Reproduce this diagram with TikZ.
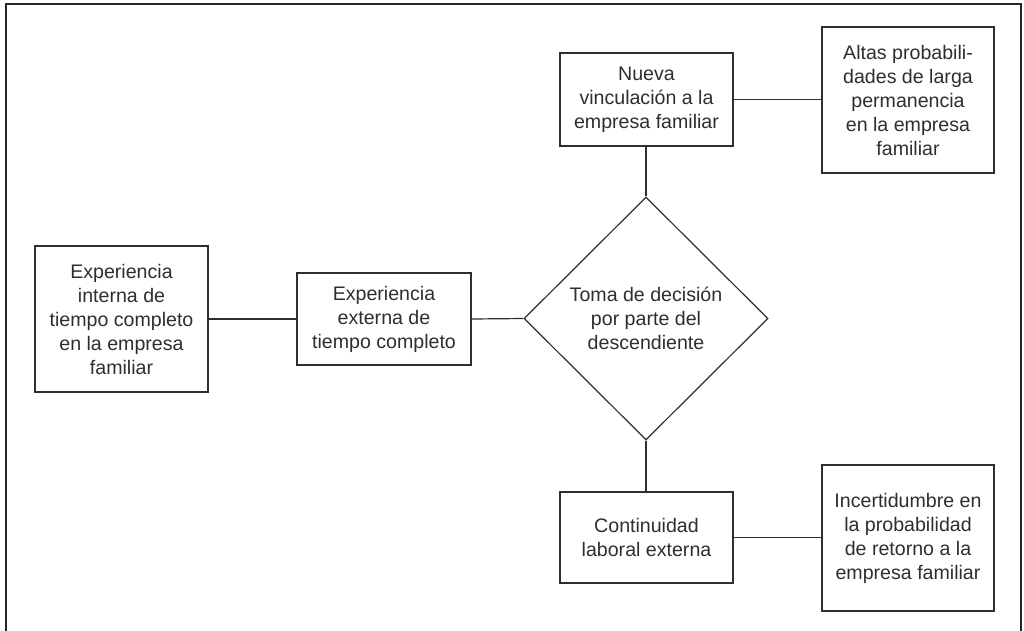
\documentclass[tikz,border=0pt]{standalone}
\usepackage{fontspec}
\setmainfont{Liberation Sans}
\usetikzlibrary{shapes.geometric}
\definecolor{ink}{HTML}{2E2E2E}
\begin{document}
\begin{tikzpicture}[x=1pt,y=-1pt,
  box/.style={draw=ink,line width=1.2pt,rectangle,inner sep=0pt,align=center,
    text=ink,font=\fontsize{19.6pt}{24pt}\selectfont},
  dia/.style={draw=ink,line width=1.2pt,diamond,inner sep=0pt,align=center,
    text=ink,font=\fontsize{19.6pt}{24pt}\selectfont,
    minimum width=244pt,minimum height=243pt},
  link/.style={draw=ink,line width=1.2pt},
  frame/.style={draw=black!85,line width=2.2pt}]
\useasboundingbox (0,0) rectangle (1024,630);
\draw[frame] (6,632) -- (6,4) -- (1021,4) -- (1021,632);
\node[box,minimum width=173pt,minimum height=146pt] (a) at (121.5,319) {Experiencia\\interna de\\tiempo completo\\en la empresa\\familiar};
\node[box,minimum width=174pt,minimum height=92pt] (b) at (384,319) {Experiencia\\externa de\\tiempo completo};
\node[dia] (d) at (646,318.5) {Toma de decisión\\por parte del\\descendiente};
\node[box,minimum width=173pt,minimum height=93pt] (n) at (646.5,99.5) {Nueva\\vinculación a la\\empresa familiar};
\node[box,minimum width=172pt,minimum height=146pt] (h) at (908,100) {Altas probabili-\\dades de larga\\permanencia\\en la empresa\\familiar};
\node[box,minimum width=173pt,minimum height=91pt] (c) at (646.5,537.5) {Continuidad\\laboral externa};
\node[box,minimum width=172pt,minimum height=146pt] (i) at (908,538) {Incertidumbre en\\la probabilidad\\de retorno a la\\empresa familiar};
\draw[link] (a.east) -- (b.west);
\draw[link] (b.east) -- (d.west);
\draw[link] (d.north) -- (d.north |- n.south);
\draw[link] (d.south) -- (d.south |- c.north);
\draw[link] (n.east) -- (n.east -| h.west);
\draw[link] (c.east) -- (c.east -| i.west);
\end{tikzpicture}
\end{document}
